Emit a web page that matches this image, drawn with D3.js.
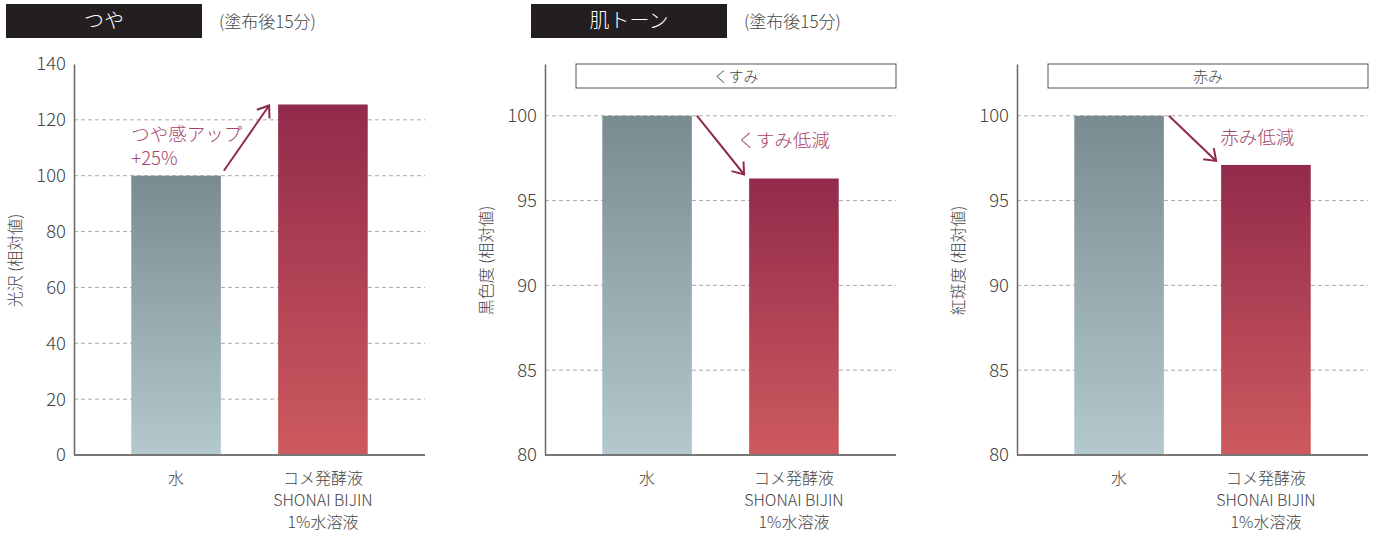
<!DOCTYPE html>
<html>
<head>
<meta charset="utf-8">
<script src="https://cdn.jsdelivr.net/npm/d3@7"></script>
<style>
  body { margin: 0; background: #fff; }
  svg { display: block; font-family: "Noto Sans CJK JP", "Noto Sans", sans-serif; font-weight: 300; }
</style>
</head>
<body>
<svg width="1379" height="533"></svg>
<script>
// data
var categories = ['水', 'コメ発酵液'];
var categoryLines = [['水'], ['コメ発酵液', 'SHONAI BIJIN', '1%水溶液']];
var glossValues = [100, 125.5];
var dullnessValues = [100, 96.3];
var rednessValues = [100, 97.1];
var glossTicks = [0, 20, 40, 60, 80, 100, 120, 140];
var toneTicks = [80, 85, 90, 95, 100];
var yTitles = ['光沢 (相対値)', '黒色度 (相対値)', '紅斑度 (相対値)'];
var boxLabels = [null, 'くすみ', '赤み'];
var noteLines = [['つや感アップ', '+25%'], ['くすみ低減'], ['赤み低減']];
var headers = ['つや', '肌トーン'];
var subHeader = '(塗布後15分)';

var svg = d3.select('svg');
var plotTop = 64, plotBottom = 455, panelWidth = 351;
var textColor = '#444';
var noteColor = '#a4466c';
var arrowColor = '#8f2a4c';

var defs = svg.append('defs');
function addGradient(id, c1, c2) {
    var g = defs.append('linearGradient').attr('id', id)
        .attr('x1', 0).attr('y1', 0).attr('x2', 0).attr('y2', 1);
    g.append('stop').attr('offset', '0%').attr('stop-color', c1);
    g.append('stop').attr('offset', '100%').attr('stop-color', c2);
}
addGradient('gWater', '#798b90', '#b3c9ce');
addGradient('gRice', '#922a4b', '#cd5a5e');

// header boxes
var headerX = [6, 531];
headers.forEach(function(h, i) {
    svg.append('rect').attr('x', headerX[i]).attr('y', 4).attr('width', 196).attr('height', 34)
        .attr('fill', '#231f20');
    svg.append('text').attr('x', headerX[i] + 98).attr('y', 28).attr('text-anchor', 'middle')
        .attr('fill', '#fff').attr('font-size', 20).text(h);
    svg.append('text').attr('x', headerX[i] + 213).attr('y', 28)
        .attr('fill', textColor).attr('font-size', 17).text(subHeader);
});

var panels = [
    { x0: 74, values: glossValues, ticks: glossTicks, domain: [0, 140] },
    { x0: 545, values: dullnessValues, ticks: toneTicks, domain: [80, 103.05] },
    { x0: 1017, values: rednessValues, ticks: toneTicks, domain: [80, 103.05] }
];
var noteDx = [0, -7, 4];
var noteY = [141, 147, 144];

panels.forEach(function(p, i) {
    var g = svg.append('g');
    var x = d3.scaleBand().domain(categories).range([p.x0, p.x0 + panelWidth]).padding(0.39);
    var y = d3.scaleLinear().domain(p.domain).range([plotBottom, plotTop]);

    // grid (no line on the baseline or at the axis top)
    g.selectAll('.grid').data(p.ticks.filter(function(t) { return t > p.domain[0] && y(t) > plotTop + 1; }))
        .enter().append('line')
        .attr('x1', p.x0).attr('x2', p.x0 + panelWidth)
        .attr('y1', function(d) { return y(d); }).attr('y2', function(d) { return y(d); })
        .attr('stroke', '#aaa').attr('stroke-width', 1).attr('stroke-dasharray', '4,3');

    // bars
    g.selectAll('.bar').data(p.values).enter().append('rect')
        .attr('x', function(d, j) { return x(categories[j]); })
        .attr('width', x.bandwidth())
        .attr('y', function(d) { return y(d); })
        .attr('height', function(d) { return y(p.domain[0]) - y(d); })
        .attr('fill', function(d, j) { return j === 0 ? 'url(#gWater)' : 'url(#gRice)'; });

    // y axis
    var yAxis = g.append('g').attr('transform', 'translate(' + p.x0 + ',0)')
        .call(d3.axisLeft(y).tickValues(p.ticks).tickSize(0).tickPadding(8));
    yAxis.select('.domain').attr('stroke', '#666').attr('stroke-width', 1.5);
    yAxis.selectAll('text').attr('font-size', 18.5).attr('fill', textColor)
        .attr('font-family', '"Noto Sans CJK JP", sans-serif').attr('font-weight', 300);

    // x axis line
    g.append('line').attr('x1', p.x0).attr('x2', p.x0 + panelWidth)
        .attr('y1', plotBottom).attr('y2', plotBottom).attr('stroke', '#777').attr('stroke-width', 2);

    // x labels
    categoryLines.forEach(function(lines, j) {
        var t = g.append('text').attr('text-anchor', 'middle').attr('fill', textColor).attr('font-size', 16);
        lines.forEach(function(l, k) {
            t.append('tspan').attr('x', x(categories[j]) + x.bandwidth() / 2)
                .attr('y', 484 + k * 22).text(l);
        });
    });

    // y title
    g.append('text')
        .attr('transform', 'translate(' + (p.x0 - 53) + ',' + ((plotTop + plotBottom) / 2 + 1) + ') rotate(-90)')
        .attr('text-anchor', 'middle').attr('fill', textColor).attr('font-size', 16)
        .text(yTitles[i]);

    // box label
    if (boxLabels[i]) {
        g.append('rect').attr('x', p.x0 + 31).attr('y', plotTop).attr('width', 320).attr('height', 24)
            .attr('fill', '#fff').attr('stroke', '#555').attr('stroke-width', 1);
        g.append('text').attr('x', p.x0 + 191).attr('y', plotTop + 18).attr('text-anchor', 'middle')
            .attr('fill', textColor).attr('font-size', 15).text(boxLabels[i]);
    }

    // arrow
    var x1 = x(categories[0]) + x.bandwidth() + (i === 0 ? 3 : 5);
    var y1 = y(p.values[0]) - (i === 0 ? 5 : 0);
    var x2 = x(categories[1]) - (i === 0 ? 9 : 5);
    var y2 = y(p.values[1]) + (i === 0 ? 1 : -4);
    var ang = Math.atan2(y2 - y1, x2 - x1);
    var hl = 13, ha = Math.PI / 5;
    g.append('line').attr('x1', x1).attr('y1', y1).attr('x2', x2).attr('y2', y2)
        .attr('stroke', arrowColor).attr('stroke-width', 2);
    g.append('path')
        .attr('d', 'M' + (x2 - hl * Math.cos(ang - ha)) + ',' + (y2 - hl * Math.sin(ang - ha)) +
            'L' + x2 + ',' + y2 +
            'L' + (x2 - hl * Math.cos(ang + ha)) + ',' + (y2 - hl * Math.sin(ang + ha)))
        .attr('fill', 'none').attr('stroke', arrowColor).attr('stroke-width', 2);

    // note
    var note = g.append('text').attr('fill', noteColor).attr('font-size', 18.5);
    var nx = i === 0 ? x(categories[0]) : x2 + noteDx[i];
    noteLines[i].forEach(function(l, k) {
        note.append('tspan').attr('x', nx).attr('y', noteY[i] + k * 24).text(l);
    });
});
</script>
</body>
</html>
